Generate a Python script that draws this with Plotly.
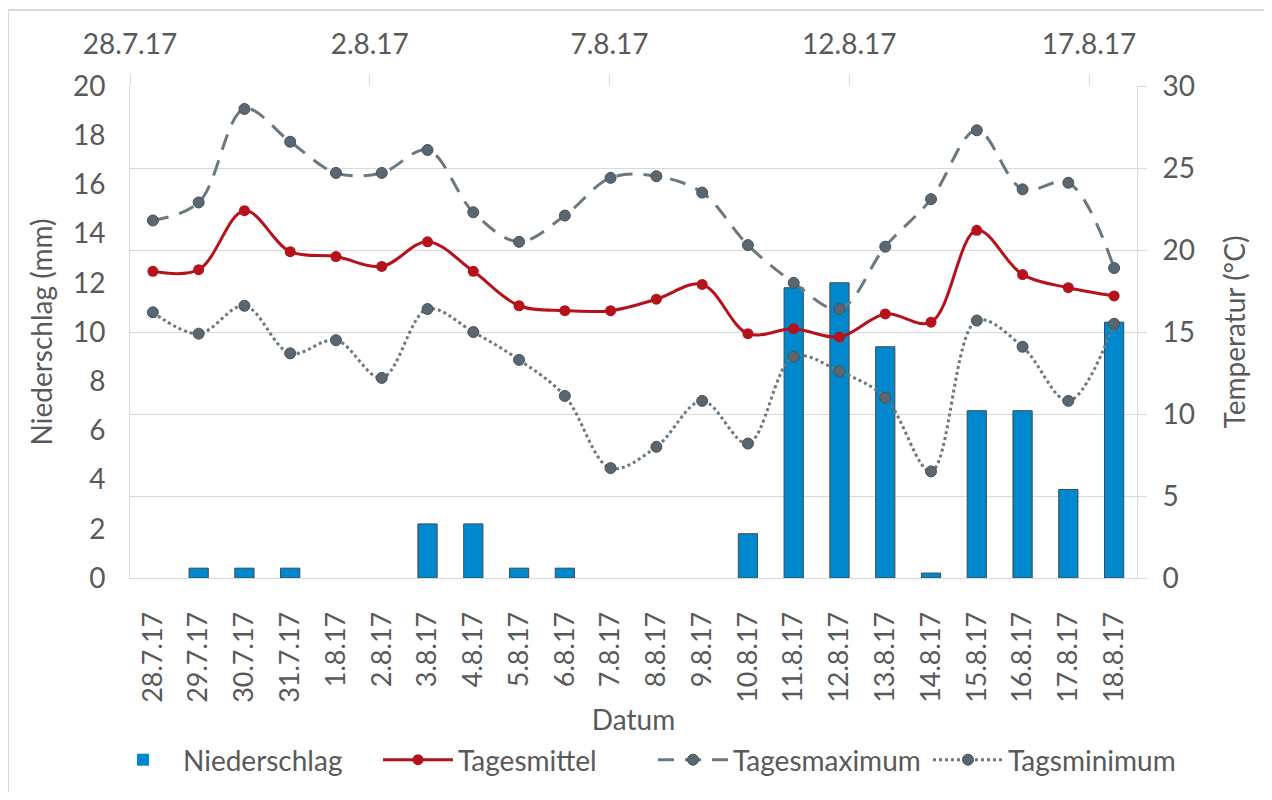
import plotly.graph_objects as go

categories = ["28.7.17", "29.7.17", "30.7.17", "31.7.17", "1.8.17", "2.8.17", "3.8.17",
              "4.8.17", "5.8.17", "6.8.17", "7.8.17", "8.8.17", "9.8.17", "10.8.17",
              "11.8.17", "12.8.17", "13.8.17", "14.8.17", "15.8.17", "16.8.17",
              "17.8.17", "18.8.17"]
dates_iso = ["2017-07-28", "2017-07-29", "2017-07-30", "2017-07-31", "2017-08-01",
             "2017-08-02", "2017-08-03", "2017-08-04", "2017-08-05", "2017-08-06",
             "2017-08-07", "2017-08-08", "2017-08-09", "2017-08-10", "2017-08-11",
             "2017-08-12", "2017-08-13", "2017-08-14", "2017-08-15", "2017-08-16",
             "2017-08-17", "2017-08-18"]
niederschlag = [0, 0.4, 0.4, 0.4, 0, 0, 2.2, 2.2, 0.4, 0.4, 0, 0, 0, 1.8,
                11.8, 12.0, 9.4, 0.2, 6.8, 6.8, 3.6, 10.4]
tagesmittel = [18.7, 18.8, 22.4, 19.9, 19.6, 19.0, 20.5, 18.7, 16.6, 16.3, 16.3,
               17.0, 17.9, 14.9, 15.2, 14.7, 16.1, 15.6, 21.2, 18.5, 17.7, 17.2]
tagesmaximum = [21.8, 22.9, 28.6, 26.6, 24.7, 24.7, 26.1, 22.3, 20.5, 22.1, 24.4,
                24.5, 23.5, 20.3, 18.0, 16.4, 20.2, 23.1, 27.3, 23.7, 24.1, 18.9]
tagsminimum = [16.2, 14.9, 16.6, 13.7, 14.5, 12.2, 16.4, 15.0, 13.3, 11.1, 6.7,
               8.0, 10.8, 8.2, 13.5, 12.6, 11.0, 6.5, 15.7, 14.1, 10.8, 15.5]
top_tickvals = ["2017-07-28", "2017-08-02", "2017-08-07", "2017-08-12", "2017-08-17"]
top_ticktext = ["28.7.17", "2.8.17", "7.8.17", "12.8.17", "17.8.17"]

FONT = "Lato"
TXT = "#595959"
GRID = "#D9D9D9"
GRAY = "#5B6770"
FS = 28

# figure is placed in the page with an 8px body margin
W, H = 1256, 784
L, R, T, B = 122, 127, 78, 214
PW, PH = W - L - R, H - T - B

bar_outline = [1 if v > 0 else 0 for v in niederschlag]

fig = go.Figure()
fig.add_trace(go.Bar(
    x=categories, y=niederschlag, name="Niederschlag",
    marker=dict(color="#0088CE", line=dict(color="#3B4A54", width=bar_outline)),
    width=0.42, xaxis="x", yaxis="y"))
fig.add_trace(go.Scatter(
    x=categories, y=tagesmittel, name="Tagesmittel", mode="lines+markers",
    line=dict(color="#B5121B", width=3, shape="spline", smoothing=1.0),
    marker=dict(color="#B5121B", size=11), xaxis="x", yaxis="y2"))
fig.add_trace(go.Scatter(
    x=categories, y=tagesmaximum, name="Tagesmaximum", mode="lines+markers",
    line=dict(color="#6B7880", width=3, shape="spline", smoothing=1.0, dash="16px,11px"),
    marker=dict(color=GRAY, size=11, line=dict(color="#46525A", width=1)),
    xaxis="x", yaxis="y2"))
fig.add_trace(go.Scatter(
    x=categories, y=tagsminimum, name="Tagsminimum", mode="lines+markers",
    line=dict(color="#6B7880", width=3, shape="spline", smoothing=1.0, dash="dot"),
    marker=dict(color=GRAY, size=11, line=dict(color="#46525A", width=1)),
    xaxis="x", yaxis="y2"))
# invisible trace to carry the top date axis
fig.add_trace(go.Scatter(
    x=dates_iso, y=tagesmittel, mode="markers", marker=dict(opacity=0),
    showlegend=False, hoverinfo="skip", xaxis="x2", yaxis="y2"))

fig.update_layout(
    width=W, height=H,
    margin=dict(l=L, r=R, t=T, b=B, autoexpand=False),
    paper_bgcolor="white", plot_bgcolor="white",
    font=dict(family=FONT, size=FS, color=TXT),
    bargap=0.5,
    showlegend=True,
    legend=dict(orientation="h", x=(95 - L) / PW, xanchor="left",
                y=(T + PH - 752) / PH, yanchor="middle",
                font=dict(size=FS, color=TXT), itemwidth=70, entrywidth=190,
                traceorder="normal"),
    xaxis=dict(type="category", categoryorder="array", categoryarray=categories,
               tickangle=-90, showline=True, linecolor=GRID, linewidth=1,
               showgrid=False, ticks="", tickfont=dict(size=FS - 1, color=TXT),
               ticklabelstandoff=22, automargin=False,
               title=dict(text="Datum", font=dict(size=FS, color=TXT), standoff=8),
               range=[-0.5, 21.5]),
    xaxis2=dict(type="date", overlaying="x", side="top",
                range=["2017-07-28", "2017-08-18"],
                tickvals=top_tickvals, ticktext=top_ticktext,
                ticks="outside", ticklen=10, tickcolor=GRID, tickwidth=1,
                showgrid=False, showline=False, tickfont=dict(size=FS, color=TXT),
                ticklabelstandoff=10, automargin=False),
    yaxis=dict(range=[0, 20], dtick=2, showgrid=False, showline=True,
               linecolor=GRID, linewidth=1, ticks="", zeroline=False,
               tickfont=dict(size=FS, color=TXT), ticklabelstandoff=18,
               automargin=False,
               title=dict(text="Niederschlag (mm)", font=dict(size=FS, color=TXT),
                          standoff=12)),
    yaxis2=dict(range=[0, 30], dtick=5, overlaying="y", side="right",
                showgrid=True, gridcolor=GRID, gridwidth=1, showline=True,
                linecolor=GRID, linewidth=1, ticks="outside", ticklen=9,
                tickcolor=GRID, zeroline=False, tickfont=dict(size=FS, color=TXT),
                ticklabelstandoff=10, automargin=False,
                title=dict(text="Temperatur (°C)", font=dict(size=FS, color=TXT),
                           standoff=31)),
    shapes=[dict(type="rect", xref="paper", yref="paper",
                 x0=(0 - L) / PW, x1=(W + 20 - L) / PW,
                 y0=(T + PH - (H + 20)) / PH, y1=(T + PH - 2) / PH,
                 line=dict(color="#D9D9D9", width=2), fillcolor="rgba(0,0,0,0)",
                 layer="below")],
)

fig.write_html("out.html")
